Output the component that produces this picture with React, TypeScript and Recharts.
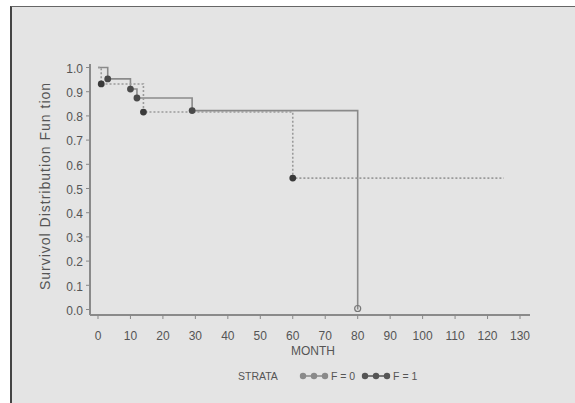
import React from "react";
import { LineChart, Line, XAxis, YAxis } from "recharts";

const months0 = [0, 3, 10, 12, 29, 80];
const surv0 = [1, 0.953, 0.911, 0.874, 0.822, 0];
const marks0 = [false, true, true, true, true, true];

const months1 = [0, 1, 14, 60, 125];
const surv1 = [1, 0.932, 0.816, 0.543, 0.543];
const marks1 = [false, true, true, true, false];

const xTicks = [0, 10, 20, 30, 40, 50, 60, 70, 80, 90, 100, 110, 120, 130];
const yTicks = [0, 0.1, 0.2, 0.3, 0.4, 0.5, 0.6, 0.7, 0.8, 0.9, 1.0];

const data0 = months0.map((t, i) => ({ t, s: surv0[i], m: marks0[i] }));
const data1 = months1.map((t, i) => ({ t, s: surv1[i], m: marks1[i] }));

const FONT = "'Liberation Sans', Arial, sans-serif";

const makeDot = (fill: string) => (props: any) => {
  const { cx, cy, payload, index } = props;
  if (!payload || !payload.m || cx == null || cy == null) return <g key={"d" + index} />;
  if (payload.s === 0) {
    return (
      <circle key={"d" + index} cx={cx} cy={cy - 1} r={3} fill="none" stroke="#777" strokeWidth={1.2} />
    );
  }
  return <circle key={"d" + index} cx={cx} cy={cy} r={3.4} fill={fill} stroke="none" />;
};

const LegendSym = ({ color }: { color: string }) => (
  <svg width={30} height={10} style={{ display: "block" }}>
    <line x1={2} y1={5} x2={28} y2={5} stroke={color} strokeWidth={1.5} />
    <circle cx={4} cy={5} r={3.2} fill={color} />
    <circle cx={15} cy={5} r={3.2} fill={color} />
    <circle cx={26} cy={5} r={3.2} fill={color} />
  </svg>
);

export default function App() {
  return (
    <div style={{ position: "absolute", left: 0, top: 0, width: 575, height: 403, background: "#fff", overflow: "hidden", fontFamily: FONT }}>
      <div
        style={{
          position: "absolute",
          left: 10,
          top: 6,
          width: 565,
          height: 397,
          background: "#e4e4e4",
          borderLeft: "2px solid #444",
          borderTop: "1px solid #666",
          boxSizing: "border-box",
        }}
      />
      <div style={{ position: "absolute", left: 0, top: 0 }}>
        <LineChart width={575} height={403} margin={{ top: 64, right: 45, bottom: 58, left: 40 }}>
          <XAxis
            type="number"
            dataKey="t"
            domain={[-2.46, 133.08]}
            ticks={xTicks}
            allowDataOverflow
            interval={0}
            height={30}
            tickSize={4}
            tickMargin={12}
            tick={{ fill: "#555", fontSize: 12, fontFamily: FONT }}
            axisLine={{ stroke: "#8a8a8a", strokeWidth: 2 }}
            tickLine={{ stroke: "#888" }}
          />
          <YAxis
            type="number"
            dataKey="s"
            domain={[-0.0227, 1.0145]}
            ticks={yTicks}
            allowDataOverflow
            interval={0}
            width={50}
            tickSize={4}
            tickMargin={3}
            tickFormatter={(v: number) => v.toFixed(1)}
            tick={{ fill: "#555", fontSize: 12, fontFamily: FONT, dy: 1 }}
            axisLine={{ stroke: "#8a8a8a", strokeWidth: 2 }}
            tickLine={{ stroke: "#888" }}
          />
          <Line
            data={data0}
            dataKey="s"
            type="stepAfter"
            stroke="#8a8a8a"
            strokeWidth={1.6}
            dot={makeDot("#4a4a4a")}
            activeDot={false}
            isAnimationActive={false}
          />
          <Line
            data={data1}
            dataKey="s"
            type="stepAfter"
            stroke="#9a9a9a"
            strokeWidth={1.6}
            strokeDasharray="2 2"
            dot={makeDot("#3a3a3a")}
            activeDot={false}
            isAnimationActive={false}
          />
        </LineChart>
      </div>
      <div
        style={{
          position: "absolute",
          left: 45,
          top: 186,
          transform: "translate(-50%, -50%) rotate(-90deg)",
          whiteSpace: "pre",
          fontSize: 14,
          letterSpacing: 1,
          lineHeight: "14px",
          color: "#555",
        }}
      >
        Survivol Distribution Fun tion
      </div>
      <div
        style={{
          position: "absolute",
          left: 313,
          top: 345,
          transform: "translateX(-50%)",
          fontSize: 12,
          lineHeight: "13px",
          color: "#555",
        }}
      >
        MONTH
      </div>
      <div
        style={{
          position: "absolute",
          left: 238,
          top: 370,
          display: "flex",
          alignItems: "center",
          fontSize: 10.5,
          lineHeight: "12px",
          color: "#555",
          whiteSpace: "pre",
        }}
      >
        <span style={{ marginRight: 21 }}>STRATA</span>
        <LegendSym color="#8a8a8a" />
        <span style={{ marginLeft: 2, marginRight: 6 }}>F = 0</span>
        <LegendSym color="#555" />
        <span style={{ marginLeft: 2 }}>F = 1</span>
      </div>
    </div>
  );
}
